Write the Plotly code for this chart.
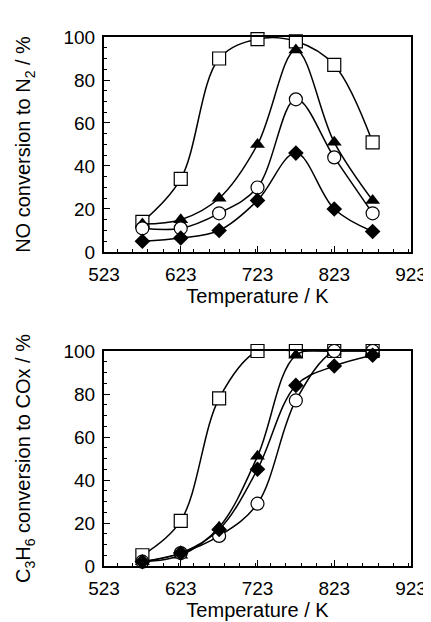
import plotly.graph_objects as go
from plotly.subplots import make_subplots

temps = [573, 623, 673, 723, 773, 823, 873]

# Top panel: NO conversion to N2 (%)
no_square = [14, 34, 90, 99, 98, 87, 51]
no_triangle = [13, 15, 25, 50, 94, 51, 24]
no_circle = [11, 11, 18, 30, 71, 44, 18]
no_diamond = [5, 6.5, 10, 24, 46, 20, 9.5]

# Bottom panel: C3H6 conversion to COx (%)
hc_square = [5, 21, 78, 100, 100, 100, 100]
hc_triangle = [2, 5, 18, 51, 98, 100, 100]
hc_circle = [2, 6, 14, 29, 77, 100, 100]
hc_diamond = [2, 6, 17, 45, 84, 93, 98]

x_ticks = [523, 623, 723, 823, 923]

fig = make_subplots(rows=2, cols=1, vertical_spacing=0.187)

styles = [
    ("square", 13, "white", 1.2),
    ("triangle-up", 13, "black", 0),
    ("circle", 13, "white", 1.2),
    ("diamond", 12, "black", 0),
]

for row, series in ((1, [no_square, no_triangle, no_circle, no_diamond]),
                    (2, [hc_square, hc_triangle, hc_circle, hc_diamond])):
    for vals, (sym, size, fill, lw) in zip(series, styles):
        fig.add_trace(go.Scatter(
            x=temps, y=vals, mode="lines+markers",
            line=dict(color="black", width=1.5, shape="spline", smoothing=1.0),
            marker=dict(symbol=sym, size=size, color=fill,
                        line=dict(color="black", width=lw)),
            showlegend=False, cliponaxis=False), row=row, col=1)

font = dict(family="Liberation Sans, Arial, sans-serif", size=20, color="black")
tickfont = dict(family="Liberation Sans, Arial, sans-serif", size=19, color="black")
for r in (1, 2):
    fig.update_xaxes(range=[523, 923], tickvals=x_ticks, ticks="inside", ticklen=6,
                     tickwidth=1, tickcolor="black", mirror=True, showline=True,
                     linecolor="black", linewidth=2, showgrid=False, zeroline=False,
                     minor=dict(dtick=20, ticks="inside", ticklen=3, tickcolor="black"),
                     title=dict(text="Temperature / K", standoff=3, font=font),
                     ticklabelstandoff=4,
                     tickfont=tickfont, row=r, col=1)
    fig.update_yaxes(range=[0, 100], dtick=20, ticks="inside", ticklen=6,
                     tickwidth=1, tickcolor="black", mirror=True, showline=True,
                     linecolor="black", linewidth=2, showgrid=False, zeroline=False,
                     minor=dict(dtick=5, ticks="inside", ticklen=3, tickcolor="black"),
                     ticklabelstandoff=3,
                     tickfont=tickfont, row=r, col=1)

fig.update_yaxes(title=dict(text="NO conversion to N<sub>2</sub> / %", font=font, standoff=27), row=1, col=1)
fig.update_yaxes(title=dict(text="C<sub>3</sub>H<sub>6</sub> conversion to COx / %", font=font, standoff=27), row=2, col=1)

fig.update_layout(
    width=431, height=622,
    margin=dict(l=96, r=21, t=29, b=64),
    paper_bgcolor="white", plot_bgcolor="white",
    font=font,
)
fig.update_layout(yaxis=dict(domain=[0.5936, 1.0]), yaxis2=dict(domain=[0.0, 0.4064]))

fig.write_html("out.html")
